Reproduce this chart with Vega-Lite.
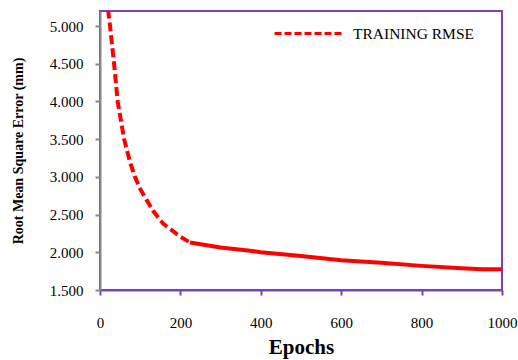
{
  "$schema": "https://vega.github.io/schema/vega-lite/v6.json",
  "autosize": "none",
  "width": 402,
  "height": 279,
  "padding": {"left": 100, "top": 11, "right": 16, "bottom": 70},
  "background": "white",
  "config": {
    "font": "Liberation Serif",
    "view": {"stroke": "#7f3fbf", "strokeWidth": 2}
  },
  "datasets": {
    "dashed": [
      {"epoch": 20, "rmse": 5.22}, {"epoch": 25, "rmse": 5.0}, {"epoch": 35, "rmse": 4.5},
      {"epoch": 44, "rmse": 4.0}, {"epoch": 60, "rmse": 3.5}, {"epoch": 75, "rmse": 3.19},
      {"epoch": 87, "rmse": 3.0}, {"epoch": 100, "rmse": 2.84}, {"epoch": 132, "rmse": 2.55},
      {"epoch": 157, "rmse": 2.38}, {"epoch": 199, "rmse": 2.21}, {"epoch": 224, "rmse": 2.13}
    ],
    "solid": [
      {"epoch": 224, "rmse": 2.13}, {"epoch": 300, "rmse": 2.065}, {"epoch": 373, "rmse": 2.02},
      {"epoch": 400, "rmse": 2.0}, {"epoch": 500, "rmse": 1.95}, {"epoch": 600, "rmse": 1.895},
      {"epoch": 700, "rmse": 1.86}, {"epoch": 800, "rmse": 1.82}, {"epoch": 900, "rmse": 1.79},
      {"epoch": 950, "rmse": 1.775}, {"epoch": 1000, "rmse": 1.775}
    ]
  },
  "encoding": {
    "x": {
      "field": "epoch", "type": "quantitative",
      "scale": {"domain": [0, 1000], "nice": false},
      "axis": {
        "values": [0, 200, 400, 600, 800, 1000], "format": "d", "grid": false,
        "title": "Epochs", "titleFontSize": 21, "titleFontWeight": "bold", "titleColor": "#000",
        "titlePadding": 6,
        "labelFontSize": 15, "labelColor": "#000", "labelPadding": 20,
        "domainColor": "#7f3fbf", "domainWidth": 2, "tickColor": "#7f3fbf", "tickWidth": 2, "tickSize": 5,
        "labelFlush": false
      }
    },
    "y": {
      "field": "rmse", "type": "quantitative",
      "scale": {"domain": [1.5, 5.2], "nice": false, "zero": false},
      "axis": {
        "values": [1.5, 2, 2.5, 3, 3.5, 4, 4.5, 5], "format": ".3f", "grid": false,
        "title": "Root Mean Square Error (mm)", "titleFontSize": 14, "titleFontWeight": "bold", "titleColor": "#000",
        "titlePadding": 24,
        "labelFontSize": 15, "labelColor": "#000", "labelPadding": 12,
        "domainColor": "#888888", "domainWidth": 2, "tickColor": "#888888", "tickWidth": 2, "tickSize": 5
      }
    }
  },
  "layer": [
    {
      "data": {"name": "solid"},
      "mark": {"type": "line", "color": "#ff0000", "strokeWidth": 4, "clip": true}
    },
    {
      "data": {"name": "dashed"},
      "mark": {"type": "line", "strokeWidth": 4, "strokeDash": [9, 4], "clip": true},
      "encoding": {
        "color": {
          "datum": "TRAINING RMSE",
          "scale": {"range": ["#ff0000"]},
          "legend": {
            "orient": "none", "legendX": 173, "legendY": -14,
            "title": null, "symbolType": "stroke", "symbolSize": 4900,
            "symbolStrokeWidth": 3, "symbolDash": [7, 3], "symbolStrokeColor": "#ff0000",
            "labelFontSize": 15.5, "labelColor": "#000", "labelOffset": 7
          }
        }
      }
    }
  ]
}
